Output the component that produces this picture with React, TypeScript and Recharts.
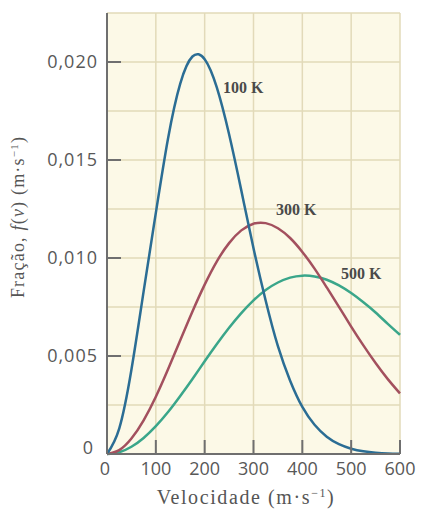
import { LineChart, Line, XAxis, YAxis, CartesianGrid } from "recharts";

// velocidade (m/s)
const velocities = [
  0, 25, 50, 75, 100, 125, 150, 175, 200, 225, 250, 275, 300,
  325, 350, 375, 400, 425, 450, 475, 500, 525, 550, 575, 600,
];

// f(v)
const f100 = [
  0, 0.0013, 0.0043, 0.0083, 0.0123, 0.0161, 0.0189, 0.02028, 0.02014, 0.01869, 0.01631, 0.01345, 0.0105,
  0.00782, 0.0055, 0.00374, 0.0024, 0.00149, 0.00088, 0.0005, 0.00027, 0.00014, 0.00007, 0.00003, 0.00001,
];
const f300 = [
  0, 0.0002, 0.00079, 0.00172, 0.00292, 0.00432, 0.0058, 0.00727, 0.00864, 0.00983, 0.01076, 0.01141, 0.01175,
  0.01178, 0.01152, 0.01102, 0.01031, 0.00946, 0.0085, 0.00751, 0.0065, 0.00554, 0.00464, 0.00382, 0.00309,
];
const f500 = [
  0, 0.00009, 0.00037, 0.00082, 0.00142, 0.00214, 0.00296, 0.00383, 0.00473, 0.00561, 0.00644, 0.00719, 0.00784,
  0.00837, 0.00875, 0.009, 0.0091, 0.00906, 0.00889, 0.0086, 0.00821, 0.00774, 0.00722, 0.00664, 0.00608,
];

const xTicks = [0, 100, 200, 300, 400, 500, 600];
const yTicks = [0, 0.005, 0.01, 0.015, 0.02];
const gridX = [0, 50, 100, 150, 200, 250, 300, 350, 400, 450, 500, 550, 600];
const gridY = [0, 0.0025, 0.005, 0.0075, 0.01, 0.0125, 0.015, 0.0175, 0.02, 0.0225];

const data = velocities.map((v, i) => ({ v, t100: f100[i], t300: f300[i], t500: f500[i] }));

const tickFont = { fontFamily: "'Open Sans', sans-serif", fontSize: 18, fill: "#585858" };
const serif = "'Liberation Serif', 'DejaVu Serif', serif";

function fmtY(v: number) {
  return v === 0 ? "0" : v.toFixed(3).replace(".", ",");
}

function YTick(props: any) {
  const { x, y, payload } = props;
  const ax = x + 9;
  return (
    <g>
      {payload.value !== 0 && (
        <line x1={ax} x2={ax + 14} y1={y} y2={y} stroke="#6f6f6f" strokeWidth={2} />
      )}
      <text
        x={x}
        y={y}
        dy={payload.value === 0 ? 0 : 6}
        dx={payload.value === 0 ? -4 : 0}
        textAnchor="end"
        letterSpacing={1}
        {...tickFont}
      >
        {fmtY(payload.value)}
      </text>
    </g>
  );
}

function XTick(props: any) {
  const { x, y, payload } = props;
  const ay = y - 4;
  return (
    <g>
      {payload.value !== 0 && (
        <line x1={x} x2={x} y1={ay} y2={ay - 14} stroke="#6f6f6f" strokeWidth={2} />
      )}
      <text x={payload.value === 0 ? x - 2 : x} y={y} dy={17} textAnchor="middle" {...tickFont}>
        {payload.value}
      </text>
    </g>
  );
}

function curveLabel(text: string, at: number, dx: number, dy: number) {
  return (props: any) => {
    if (props.index !== at) return null;
    return (
      <text
        x={props.x + dx}
        y={props.y + dy}
        fontFamily={serif}
        fontSize={16}
        fontWeight="bold"
        fill="#4a4a4a"
      >
        {text}
      </text>
    );
  };
}

export default function App() {
  return (
    <div style={{ position: "absolute", left: 0, top: 0, background: "#fff" }}>
      <LineChart width={422} height={515} data={data} margin={{ top: 13, right: 22, left: 0, bottom: 0 }}>
        <CartesianGrid
          horizontalValues={gridY}
          verticalValues={gridX}
          stroke="#e2dab9"
          strokeWidth={1.5}
          fill="#fcf9e7"
          fillOpacity={1}
        />
        <XAxis
          dataKey="v"
          type="number"
          domain={[0, 600]}
          ticks={xTicks}
          height={61}
          tickSize={0}
          tickMargin={4}
          tick={<XTick />}
          axisLine={{ stroke: "#6f6f6f", strokeWidth: 2 }}
          label={{
            content: () => (
              <text x={246} y={504} textAnchor="middle" fontFamily={serif} fontSize={20} letterSpacing={1.6} fill="#555">
                Velocidade (m·s<tspan dy={-7} fontSize={12}>−1</tspan><tspan dy={7}>)</tspan>
              </text>
            ),
          }}
        />
        <YAxis
          type="number"
          domain={[0, 0.0225]}
          ticks={yTicks}
          width={107}
          tickSize={0}
          tickMargin={9}
          tick={<YTick />}
          axisLine={{ stroke: "#6f6f6f", strokeWidth: 2 }}
          label={{
            content: () => (
              <text
                transform="translate(24,217) rotate(-90)"
                textAnchor="middle"
                fontFamily={serif}
                fontSize={18}
                letterSpacing={1.2}
                fill="#555"
              >
                Fração, <tspan fontStyle="italic">f</tspan>(<tspan fontStyle="italic">v</tspan>) (m·s
                <tspan dy={-6} fontSize={11}>−1</tspan><tspan dy={6}>)</tspan>
              </text>
            ),
          }}
        />
        <Line
          type="natural"
          dataKey="t500"
          stroke="#3aa68a"
          strokeWidth={2.5}
          dot={false}
          isAnimationActive={false}
          label={curveLabel("500 K", 19, 2, -6)}
        />
        <Line
          type="natural"
          dataKey="t300"
          stroke="#a3505e"
          strokeWidth={2.5}
          dot={false}
          isAnimationActive={false}
          label={curveLabel("300 K", 14, -2, -13)}
        />
        <Line
          type="natural"
          dataKey="t100"
          stroke="#2b6d94"
          strokeWidth={2.5}
          dot={false}
          isAnimationActive={false}
          label={curveLabel("100 K", 9, 6, 5)}
        />
      </LineChart>
    </div>
  );
}
